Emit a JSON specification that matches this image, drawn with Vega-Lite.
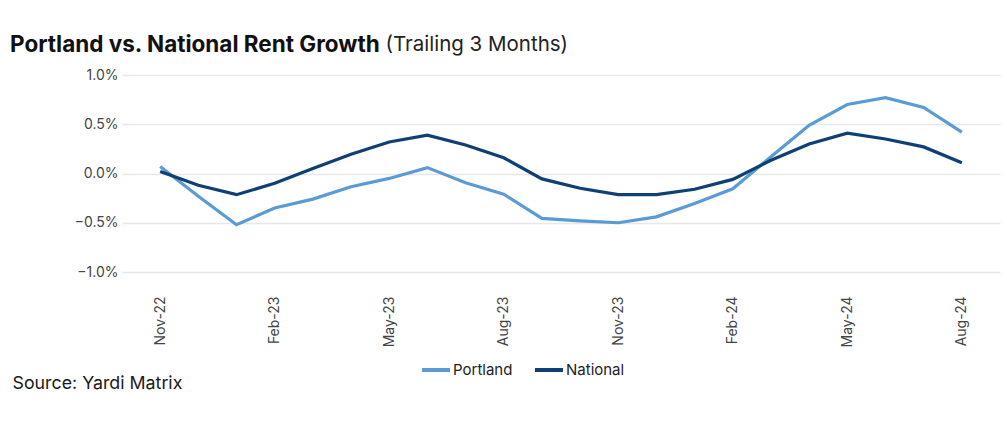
{
  "$schema": "https://vega.github.io/schema/vega-lite/v6.json",
  "width": 878,
  "height": 197,
  "autosize": {"type": "none"},
  "padding": {"left": 122, "top": 75, "right": 7, "bottom": 161},
  "background": "white",
  "title": {
    "text": "Portland vs. National Rent Growth",
    "anchor": "start",
    "frame": "group",
    "dx": -112,
    "dy": 46,
    "offset": 24,
    "font": "Inter",
    "fontSize": 22.5,
    "fontWeight": "bold",
    "color": "#111111"
  },
  "data": {
    "values": [
      {"month": "Nov-22", "series": "Portland", "growth": 0.07},
      {"month": "Dec-22", "series": "Portland", "growth": -0.23},
      {"month": "Jan-23", "series": "Portland", "growth": -0.52},
      {"month": "Feb-23", "series": "Portland", "growth": -0.35},
      {"month": "Mar-23", "series": "Portland", "growth": -0.26},
      {"month": "Apr-23", "series": "Portland", "growth": -0.135},
      {"month": "May-23", "series": "Portland", "growth": -0.05},
      {"month": "Jun-23", "series": "Portland", "growth": 0.06},
      {"month": "Jul-23", "series": "Portland", "growth": -0.095},
      {"month": "Aug-23", "series": "Portland", "growth": -0.21},
      {"month": "Sep-23", "series": "Portland", "growth": -0.455},
      {"month": "Oct-23", "series": "Portland", "growth": -0.48},
      {"month": "Nov-23", "series": "Portland", "growth": -0.5},
      {"month": "Dec-23", "series": "Portland", "growth": -0.44},
      {"month": "Jan-24", "series": "Portland", "growth": -0.305},
      {"month": "Feb-24", "series": "Portland", "growth": -0.155},
      {"month": "Mar-24", "series": "Portland", "growth": 0.17},
      {"month": "Apr-24", "series": "Portland", "growth": 0.49},
      {"month": "May-24", "series": "Portland", "growth": 0.7},
      {"month": "Jun-24", "series": "Portland", "growth": 0.77},
      {"month": "Jul-24", "series": "Portland", "growth": 0.67},
      {"month": "Aug-24", "series": "Portland", "growth": 0.42},
      {"month": "Nov-22", "series": "National", "growth": 0.02},
      {"month": "Dec-22", "series": "National", "growth": -0.12},
      {"month": "Jan-23", "series": "National", "growth": -0.215},
      {"month": "Feb-23", "series": "National", "growth": -0.1},
      {"month": "Mar-23", "series": "National", "growth": 0.05},
      {"month": "Apr-23", "series": "National", "growth": 0.195},
      {"month": "May-23", "series": "National", "growth": 0.32},
      {"month": "Jun-23", "series": "National", "growth": 0.39},
      {"month": "Jul-23", "series": "National", "growth": 0.29},
      {"month": "Aug-23", "series": "National", "growth": 0.16},
      {"month": "Sep-23", "series": "National", "growth": -0.055},
      {"month": "Oct-23", "series": "National", "growth": -0.15},
      {"month": "Nov-23", "series": "National", "growth": -0.215},
      {"month": "Dec-23", "series": "National", "growth": -0.215},
      {"month": "Jan-24", "series": "National", "growth": -0.16},
      {"month": "Feb-24", "series": "National", "growth": -0.06},
      {"month": "Mar-24", "series": "National", "growth": 0.135},
      {"month": "Apr-24", "series": "National", "growth": 0.3},
      {"month": "May-24", "series": "National", "growth": 0.41},
      {"month": "Jun-24", "series": "National", "growth": 0.35},
      {"month": "Jul-24", "series": "National", "growth": 0.27},
      {"month": "Aug-24", "series": "National", "growth": 0.11}
    ]
  },
  "mark": {"type": "line", "strokeWidth": 3.2, "strokeCap": "butt", "strokeJoin": "miter"},
  "encoding": {
    "x": {
      "field": "month",
      "type": "ordinal",
      "sort": null,
      "scale": {"type": "point", "padding": 1.125},
      "axis": {
        "values": ["Nov-22", "Feb-23", "May-23", "Aug-23", "Nov-23", "Feb-24", "May-24", "Aug-24"],
        "labelAngle": -90,
        "labelPadding": 24,
        "labelFont": "Inter",
        "labelFontSize": 14,
        "labelColor": "#444444",
        "domain": false,
        "ticks": false,
        "grid": false,
        "title": "Source: Yardi Matrix",
        "titleX": -110,
        "titleY": 116,
        "titleAlign": "left",
        "titleBaseline": "alphabetic",
        "titleFont": "Inter",
        "titleFontSize": 17.8,
        "titleFontWeight": "normal",
        "titleColor": "#1a1a1a"
      }
    },
    "y": {
      "field": "growth",
      "type": "quantitative",
      "scale": {"domain": [-1, 1], "nice": false, "zero": false},
      "axis": {
        "values": [-1, -0.5, 0, 0.5, 1],
        "labelExpr": "format(datum.value, '.1f') + '%'",
        "labelFont": "Inter",
        "labelFontSize": 14,
        "labelColor": "#444444",
        "labelPadding": 4,
        "domain": false,
        "ticks": false,
        "grid": true,
        "gridColor": "#e8e8e8",
        "gridWidth": 1.5,
        "title": "(Trailing 3 Months)",
        "titleAngle": 0,
        "titleX": 263,
        "titleY": -25,
        "titleAlign": "left",
        "titleBaseline": "alphabetic",
        "titleFont": "Inter",
        "titleFontSize": 20.5,
        "titleFontWeight": "normal",
        "titleColor": "#222222"
      }
    },
    "color": {
      "field": "series",
      "type": "nominal",
      "scale": {"domain": ["Portland", "National"], "range": ["#5B9BD5", "#0E3F75"]},
      "legend": {
        "title": null,
        "orient": "none",
        "direction": "horizontal",
        "legendX": 298,
        "legendY": 279,
        "symbolType": "stroke",
        "symbolStrokeWidth": 4,
        "symbolSize": 784,
        "labelFont": "Inter",
        "labelFontSize": 15,
        "labelColor": "#222222",
        "labelOffset": 1,
        "columnPadding": 14
      }
    }
  },
  "config": {"view": {"stroke": null}}
}
